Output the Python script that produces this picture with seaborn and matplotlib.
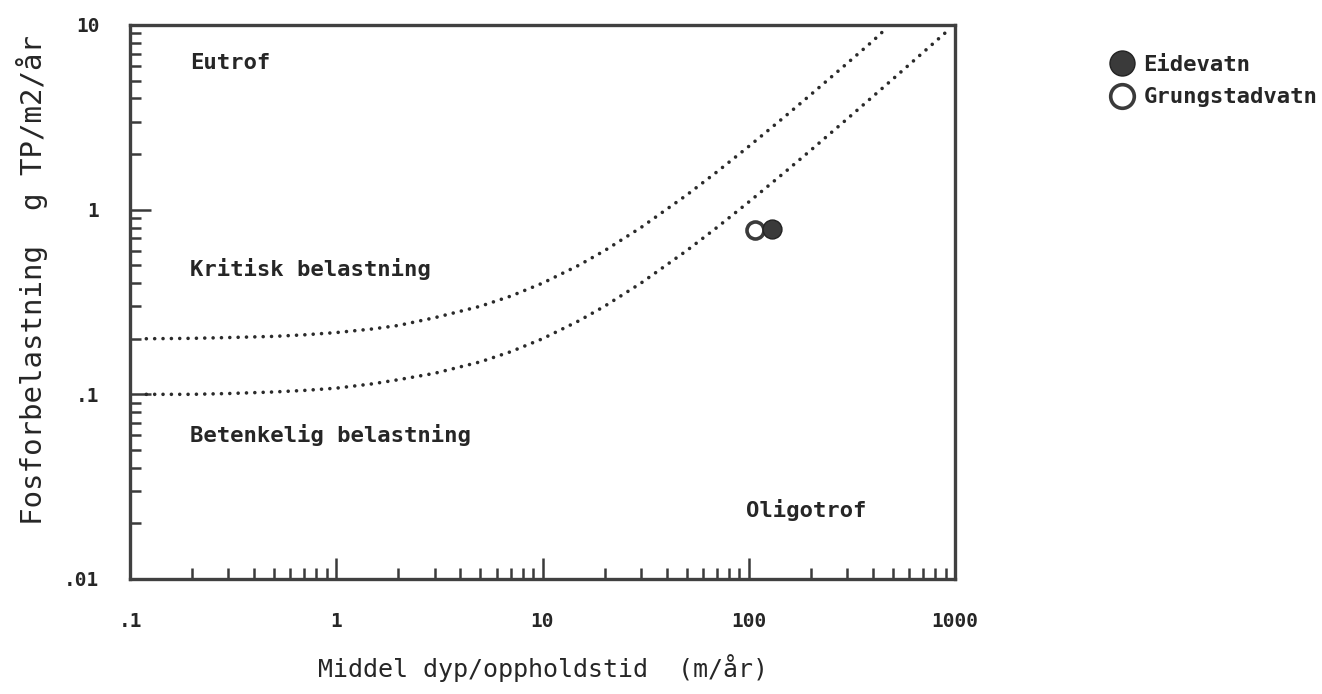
import matplotlib
matplotlib.use("Agg")
import matplotlib.pyplot as plt
from matplotlib.lines import Line2D
from matplotlib.ticker import FixedLocator, FixedFormatter, NullFormatter, LogLocator
import seaborn as sns
import pandas as pd

# ---- data ----
lower_x = [0.12, 0.2, 0.3, 0.5, 0.7, 1, 1.5, 2, 3, 5, 7, 10, 15, 20, 30, 50, 70, 100, 150, 200, 300, 500, 700, 910]
lower_y = [0.100, 0.100, 0.101, 0.103, 0.105, 0.108, 0.114, 0.12, 0.13, 0.15, 0.17, 0.20, 0.25, 0.30, 0.40, 0.60, 0.80, 1.1, 1.6, 2.1, 3.1, 5.1, 7.1, 9.2]
upper_x = [0.12, 0.2, 0.3, 0.5, 0.7, 1, 1.5, 2, 3, 5, 7, 10, 15, 20, 30, 50, 70, 100, 150, 200, 300, 400, 460]
upper_y = [0.200, 0.201, 0.203, 0.206, 0.210, 0.216, 0.226, 0.236, 0.26, 0.30, 0.34, 0.40, 0.50, 0.60, 0.80, 1.2, 1.6, 2.2, 3.2, 4.2, 6.2, 8.2, 9.5]

lakes = ["Grungstadvatn", "Eidevatn"]
lake_x = [107, 130]
lake_y = [0.78, 0.785]

x_ticks = [0.1, 1, 10, 100, 1000]
x_ticklabels = [".1", "1", "10", "100", "1000"]
y_ticks = [0.01, 0.1, 1, 10]
y_ticklabels = [".01", ".1", "1", "10"]

regions = ["Eutrof", "Kritisk belastning", "Betenkelig belastning", "Oligotrof"]
region_x = [0.195, 0.195, 0.195, 97]
region_y = [6.2, 0.48, 0.060, 0.0237]

# ---- styling ----
sns.set_theme(style="white")
plt.rcParams["font.family"] = ["DejaVu Sans Mono", "DejaVu Sans"]
plt.rcParams["lines.scale_dashes"] = False
INK = "#262626"

fig = plt.figure(figsize=(13.22, 6.94), dpi=100)
ax = fig.add_axes([130 / 1322, 1 - 579 / 694, 825 / 1322, 554 / 694])
ax.set_xscale("log")
ax.set_yscale("log")
ax.set_xlim(0.1, 1000)
ax.set_ylim(0.01, 10)

df_low = pd.DataFrame({"x": lower_x, "y": lower_y})
df_up = pd.DataFrame({"x": upper_x, "y": upper_y})
for d in (df_up, df_low):
    sns.lineplot(data=d, x="x", y="y", ax=ax, color="#2a2a2a", linewidth=2.6,
                 estimator=None, sort=True)
    ln = ax.lines[-1]
    ln.set_linestyle((0, (0.01, 6.0)))
    ln.set_dash_capstyle("round")

# points: open first, filled on top
ax.scatter([lake_x[0]], [lake_y[0]], s=150, facecolor="white", edgecolor="#3a3a3a",
           linewidth=2.6, zorder=5)
ax.scatter([lake_x[1]], [lake_y[1]], s=185, facecolor="#3a3a3a", edgecolor="#222222",
           linewidth=1.0, zorder=6)

for t, xx, yy in zip(regions, region_x, region_y):
    ax.text(xx, yy, t, fontsize=16, fontweight="bold", color=INK, ha="left", va="center")

# spines
for s in ax.spines.values():
    s.set_visible(True)
    s.set_color("#404040")
    s.set_linewidth(2.4)

ax.xaxis.set_major_locator(FixedLocator(x_ticks))
ax.xaxis.set_major_formatter(FixedFormatter(x_ticklabels))
ax.yaxis.set_major_locator(FixedLocator(y_ticks))
ax.yaxis.set_major_formatter(FixedFormatter(y_ticklabels))
ax.xaxis.set_minor_locator(LogLocator(base=10, subs=[2, 3, 4, 5, 6, 7, 8, 9], numticks=20))
ax.yaxis.set_minor_locator(LogLocator(base=10, subs=[2, 3, 4, 5, 6, 7, 8, 9], numticks=20))
ax.xaxis.set_minor_formatter(NullFormatter())
ax.yaxis.set_minor_formatter(NullFormatter())

ax.tick_params(which="both", direction="in", top=False, right=False,
               bottom=True, left=True, color="#3a3a3a", width=1.8)
ax.tick_params(which="major", length=15)
ax.tick_params(which="minor", length=8)
ax.tick_params(axis="x", which="major", pad=24, labelsize=14, labelcolor=INK)
ax.tick_params(axis="y", which="major", pad=22, labelsize=14, labelcolor=INK)
for lab in ax.get_xticklabels() + ax.get_yticklabels():
    lab.set_fontweight("bold")

ax.set_xlabel("Middel dyp/oppholdstid  (m/år)", fontsize=18, color=INK)
ax.set_ylabel("Fosforbelastning  g TP/m2/år", fontsize=21, color=INK)
ax.xaxis.set_label_coords(0.5, (579 - 668) / 554)
ax.xaxis.label.set_va("center")
ax.yaxis.set_label_coords((32 - 130) / 825, (579 - 280) / 554)
ax.yaxis.label.set_va("center")

handles = [
    Line2D([], [], linestyle="none", marker="o", markersize=18,
           markerfacecolor="#3a3a3a", markeredgecolor="#222222", markeredgewidth=1.0),
    Line2D([], [], linestyle="none", marker="o", markersize=17,
           markerfacecolor="white", markeredgecolor="#3a3a3a", markeredgewidth=2.6),
]
leg = fig.legend(handles, ["Eidevatn", "Grungstadvatn"], loc="upper left",
                 bbox_to_anchor=(1098 / 1322, 1 - 44 / 694), frameon=False,
                 borderpad=0, handletextpad=0.35, labelspacing=0.55,
                 handlelength=1.2, prop={"family": "DejaVu Sans Mono", "weight": "bold", "size": 16})
for t in leg.get_texts():
    t.set_color(INK)

fig.savefig("out.png", dpi=100)
